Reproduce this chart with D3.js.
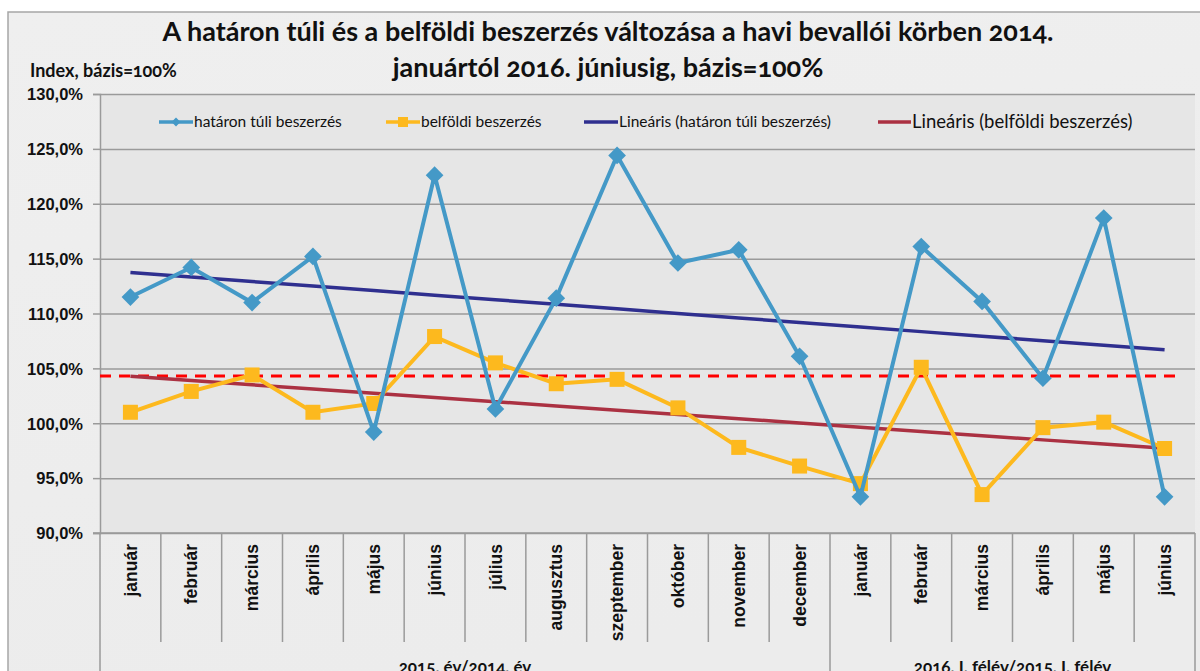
<!DOCTYPE html>
<html lang="hu">
<head>
<meta charset="UTF-8">
<title>A határon túli és a belföldi beszerzés változása</title>
<script src="https://d3js.org/d3.v7.min.js"></script>
<style>
  body { margin: 0; background: #fff; }
  svg { display: block; font-family: Lato, "Open Sans", sans-serif; font-feature-settings: "onum"; }
  .lbl { font-weight: bold; fill: #111; }
</style>
</head>
<body>
<div id="chart"></div>
<script>
// adatok
const months = ["január", "február", "március", "április", "május", "június", "július", "augusztus",
  "szeptember", "október", "november", "december",
  "január", "február", "március", "április", "május", "június"];
const groupLabels = ["2015. év/2014. év", "2016. I. félév/2015. I. félév"];
const groupSizes = [12, 6];
const hataronTuli = [111.5, 114.2, 111.0, 115.2, 99.2, 122.6, 101.3, 111.4, 124.4, 114.6, 115.8, 106.1,
  93.3, 116.1, 111.1, 104.1, 118.7, 93.3];
const belfoldi = [101.0, 102.9, 104.4, 101.0, 101.8, 107.9, 105.5, 103.6, 104.0, 101.4, 97.8, 96.1,
  94.5, 105.1, 93.5, 99.6, 100.1, 97.7];
const referenceLevel = 104.3;
const yTicks = [90, 95, 100, 105, 110, 115, 120, 125, 130];
const legendLabels = ["határon túli beszerzés", "belföldi beszerzés",
  "Lineáris (határon túli beszerzés)", "Lineáris (belföldi beszerzés)"];

const W = 1200, H = 671;
const plot = { left: 100, top: 94, right: 1195, bottom: 533 };
const colBlue = "#4499c7", colYellow = "#fdb91e", colTrendBlue = "#2f2f8f", colTrendRed = "#ab3142";

const svg = d3.select("#chart").append("svg").attr("width", W).attr("height", H);

// háttér
const defs = svg.append("defs");
const grad = defs.append("linearGradient").attr("id", "bg").attr("x1", 0).attr("y1", 0).attr("x2", 0.3).attr("y2", 1);
grad.append("stop").attr("offset", "0%").attr("stop-color", "#efefef");
grad.append("stop").attr("offset", "100%").attr("stop-color", "#ececec");
svg.append("rect").attr("x", 8).attr("y", 12).attr("width", W).attr("height", H)
  .attr("fill", "url(#bg)").attr("stroke", "#a6a6a6").attr("stroke-width", 1.5);
svg.append("rect").attr("x", plot.left).attr("y", plot.top)
  .attr("width", plot.right - plot.left).attr("height", plot.bottom - plot.top).attr("fill", "#e6e6e6");

const x = d3.scaleBand().domain(d3.range(months.length)).range([plot.left, plot.right]);
const y = d3.scaleLinear().domain([90, 130]).range([plot.bottom, plot.top]);
const cx = i => x(i) + x.bandwidth() / 2;

// rácsvonalak
svg.append("g").attr("transform", `translate(${plot.left},0)`)
  .call(d3.axisLeft(y).tickValues(yTicks).tickSize(-(plot.right - plot.left)).tickFormat(""))
  .call(g => g.select(".domain").remove())
  .call(g => g.selectAll("line").attr("stroke", "#9a9a9a").attr("stroke-width", 1.5));

// y tengely
svg.append("g").attr("transform", `translate(${plot.left},0)`)
  .call(d3.axisLeft(y).tickValues(yTicks).tickSize(7).tickPadding(10)
    .tickFormat(d => d.toFixed(1).replace(".", ",") + "%"))
  .call(g => g.select(".domain").attr("stroke", "#9a9a9a").attr("stroke-width", 1.5))
  .call(g => g.selectAll("line").attr("stroke", "#9a9a9a").attr("stroke-width", 1.5))
  .call(g => g.selectAll("text").attr("class", "lbl").style("font-size", "16.5px").attr("dy", "0.35em"));

// x tengely: feliratok
svg.append("g").attr("transform", `translate(0,${plot.bottom})`)
  .call(d3.axisBottom(x).tickSize(0).tickFormat(i => months[i]))
  .call(g => g.select(".domain").attr("stroke", "#9a9a9a").attr("stroke-width", 1.5)
    .attr("d", `M${plot.left - 7},0H${plot.right}`))
  .call(g => g.selectAll("text").attr("class", "lbl").style("font-size", "17.5px")
    .attr("transform", "rotate(-90)").attr("x", -11).attr("y", 0).attr("dy", "0.35em")
    .style("text-anchor", "end"));

// x tengely: elválasztók és csoportok
const bounds = d3.range(months.length + 1);
const groupEdges = d3.cumsum([0, ...groupSizes]);
svg.append("g").selectAll("line").data(bounds).join("line")
  .attr("x1", i => plot.left + i * x.step()).attr("x2", i => plot.left + i * x.step())
  .attr("y1", plot.bottom).attr("y2", i => groupEdges.includes(i) ? H : 642)
  .attr("stroke", "#9a9a9a").attr("stroke-width", 1.5);
svg.append("g").selectAll("text").data(groupLabels).join("text")
  .attr("class", "lbl").style("font-size", "17px").attr("text-anchor", "middle")
  .attr("x", (d, i) => plot.left + (groupEdges[i] + groupEdges[i + 1]) / 2 * x.step())
  .attr("y", 673).text(d => d);

// referencia szint
svg.append("line")
  .attr("x1", plot.left).attr("x2", cx(months.length - 1) + x.bandwidth() * 0.3)
  .attr("y1", y(referenceLevel)).attr("y2", y(referenceLevel))
  .attr("stroke", "#ff0000").attr("stroke-width", 3).attr("stroke-dasharray", "11,8");

// lineáris trendek
function trend(vals) {
  const n = vals.length, xs = d3.range(n);
  const mx = d3.mean(xs), my = d3.mean(vals);
  const b = d3.sum(xs, i => (i - mx) * (vals[i] - my)) / d3.sum(xs, i => (i - mx) ** 2);
  return xs.map(i => my + b * (i - mx));
}
const line = d3.line().x((d, i) => cx(i)).y(d => y(d));
svg.append("path").datum(trend(hataronTuli)).attr("d", line)
  .attr("fill", "none").attr("stroke", colTrendBlue).attr("stroke-width", 3.5);
svg.append("path").datum(trend(belfoldi)).attr("d", line)
  .attr("fill", "none").attr("stroke", colTrendRed).attr("stroke-width", 3.5);

// adatsorok
svg.append("path").datum(belfoldi).attr("d", line)
  .attr("fill", "none").attr("stroke", colYellow).attr("stroke-width", 4);
svg.append("g").selectAll("rect").data(belfoldi).join("rect")
  .attr("x", (d, i) => cx(i) - 7.5).attr("y", d => y(d) - 7.5)
  .attr("width", 15).attr("height", 15).attr("fill", colYellow);

svg.append("path").datum(hataronTuli).attr("d", line)
  .attr("fill", "none").attr("stroke", colBlue).attr("stroke-width", 4);
const diamond = d3.symbol().type(d3.symbolDiamond2).size(200);
svg.append("g").selectAll("path").data(hataronTuli).join("path")
  .attr("d", diamond).attr("transform", (d, i) => `translate(${cx(i)},${y(d)})`).attr("fill", colBlue);

// jelmagyarázat
const legendItems = [
  { x: 159, w: 34, color: colBlue, marker: "diamond", size: 15.5 },
  { x: 386, w: 34, color: colYellow, marker: "square", size: 15.5 },
  { x: 584, w: 34, color: colTrendBlue, marker: null, size: 15.5 },
  { x: 878, w: 33, color: colTrendRed, marker: null, size: 18.5 }
];
const ly = 122;
const lg = svg.append("g").selectAll("g").data(legendItems).join("g")
  .attr("transform", d => `translate(${d.x},${ly})`);
lg.append("line").attr("x1", 0).attr("x2", d => d.w).attr("stroke", d => d.color).attr("stroke-width", 3.5);
lg.filter(d => d.marker === "diamond").append("path")
  .attr("d", d3.symbol().type(d3.symbolDiamond2).size(50)).attr("transform", d => `translate(${d.w / 2},0)`)
  .attr("fill", colBlue);
lg.filter(d => d.marker === "square").append("rect")
  .attr("x", d => d.w / 2 - 5).attr("y", -5).attr("width", 10).attr("height", 10).attr("fill", colYellow);
lg.append("text").attr("x", d => d.w + 1).attr("dy", "0.35em")
  .style("font-size", d => d.size + "px").style("fill", "#111")
  .text((d, i) => legendLabels[i]);

// címek
svg.append("text").attr("class", "lbl").attr("x", 608).attr("y", 41).attr("text-anchor", "middle")
  .style("font-size", "27px").text("A határon túli és a belföldi beszerzés változása a havi bevallói körben 2014.");
svg.append("text").attr("class", "lbl").attr("x", 608).attr("y", 77).attr("text-anchor", "middle")
  .style("font-size", "27px").text("januártól 2016. júniusig, bázis=100%");
svg.append("text").attr("class", "lbl").attr("x", 30).attr("y", 77)
  .style("font-size", "18px").text("Index, bázis=100%");
</script>
</body>
</html>
